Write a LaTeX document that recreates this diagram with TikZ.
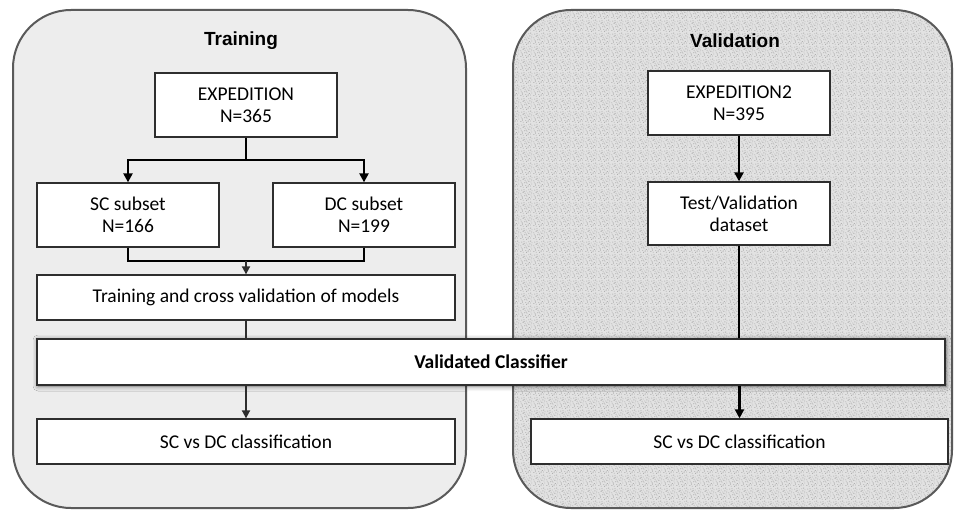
\documentclass[tikz,border=0pt]{standalone}
\usepackage{fontspec}
\setmainfont{Carlito}
\newfontfamily\titlefont{Liberation Sans}
\usetikzlibrary{arrows.meta,shadows.blur,patterns}
\definecolor{leftbg}{HTML}{EDEDED}
\definecolor{rightbg}{HTML}{E2E2E2}
\definecolor{grain}{HTML}{B0B0B0}
\definecolor{panelline}{HTML}{5A5A5A}
\definecolor{boxline}{HTML}{2E2E2E}
\pgfdeclarepatternformonly{grainy}{\pgfpointorigin}{\pgfpoint{13pt}{13pt}}{\pgfpoint{13pt}{13pt}}{
  \foreach \px/\py in {0.5/1.2,3.1/0.4,5.7/2.3,8.2/0.9,10.9/1.7,12.1/3.8,1.8/4.1,4.4/5.2,
    7.0/4.6,9.6/3.3,11.3/6.0,0.3/7.4,2.9/8.8,5.1/7.9,7.8/8.1,10.2/9.4,12.4/10.6,
    1.4/11.2,3.9/11.9,6.3/10.3,8.9/11.7,11.0/12.3,2.2/2.6,6.6/0.2,9.1/6.7,4.0/9.9,0.9/5.8,12.0/8.2,6.1/5.9,8.4/2.0}{
    \pgfpathrectangle{\pgfpoint{\px pt}{\py pt}}{\pgfpoint{0.9pt}{0.9pt}}
  }
  \pgfusepath{fill}
}
\tikzset{
  panel/.style={draw=panelline,line width=2pt,rounded corners=58pt},
  stepbox/.style={draw=boxline,fill=white,line width=1.3pt,align=center,
    font=\fontsize{19.5}{22}\selectfont,inner sep=0pt},
  bigbox/.style={stepbox,line width=1.8pt,font=\bfseries\fontsize{19.5}{22}\selectfont,
    blur shadow={shadow xshift=1pt,shadow yshift=-1pt,shadow blur radius=5pt,shadow opacity=55}},
  heading/.style={font=\titlefont\bfseries\fontsize{19}{21}\selectfont},
  thick conn/.style={draw=black,line width=2.8pt},
  thin conn/.style={draw=boxline,line width=1.8pt},
  tip/.style={-{Triangle[length=9pt,width=9pt]}},
  tipsmall/.style={-{Triangle[length=8pt,width=8pt]}}
}
\begin{document}
\begin{tikzpicture}[x=1pt,y=-1pt]
\useasboundingbox (0,0) rectangle (954,513);
% panels
\path[fill=leftbg,rounded corners=58pt] (13,10) rectangle (466,508);
\path[fill=rightbg,rounded corners=58pt] (513,10) rectangle (952,508);
\path[pattern=grainy,pattern color=grain,rounded corners=58pt] (513,10) rectangle (952,508);
\path[panel] (13,10) rectangle (466,508);
\path[panel] (513,10) rectangle (952,508);
\node[heading] (ttrain) at (241,41) {Training};
\node[heading] (tval) at (735,41) {Validation};
% left column
\node[stepbox,minimum width=182pt,minimum height=64pt] (exp) at (246,105) {EXPEDITION\\N=365};
\node[stepbox,minimum width=182pt,minimum height=64pt] (sc) at (128,215) {SC subset\\N=166};
\node[stepbox,minimum width=182pt,minimum height=64pt] (dc) at (364,215) {DC subset\\N=199};
\node[stepbox,minimum width=418pt,minimum height=45pt] (train) at (246,297.5) {Training and cross validation of models};
\node[bigbox,minimum width=908pt,minimum height=46pt] (valc) at (491,362) {Validated Classifier};
\node[stepbox,minimum width=418pt,minimum height=45pt] (sc1) at (246,441.5) {SC vs DC classification};
% right column
\node[stepbox,minimum width=182pt,minimum height=64pt] (exp2) at (739,103) {EXPEDITION2\\N=395};
\node[stepbox,minimum width=182pt,minimum height=63pt] (test) at (739,213.5) {Test/Validation\\dataset};
\node[stepbox,minimum width=417pt,minimum height=45pt] (sc2) at (739.5,441.5) {SC vs DC classification};
% connectors
\coordinate (j1) at (246,160);
\coordinate (j2) at (246,261);
\draw[thick conn] (exp.south) -- (j1);
\draw[thick conn,tip] (j1) -| (sc.north);
\draw[thick conn,tip] (j1) -| (dc.north);
\draw[thick conn] (sc.south) |- (j2);
\draw[thick conn] (dc.south) |- (j2);
\draw[thin conn,tipsmall] (j2) -- (train.north);
\draw[thin conn] (train.south) -- (train.south |- valc.north);
\draw[thin conn,tipsmall] (valc.south -| sc1.north) -- (sc1.north);
\draw[thick conn,tip] (exp2.south) -- (test.north);
\draw[thick conn] (test.south) -- (test.south |- valc.north);
\draw[thick conn,tip] (valc.south -| sc2.north) -- (sc2.north);
\end{tikzpicture}
\end{document}
